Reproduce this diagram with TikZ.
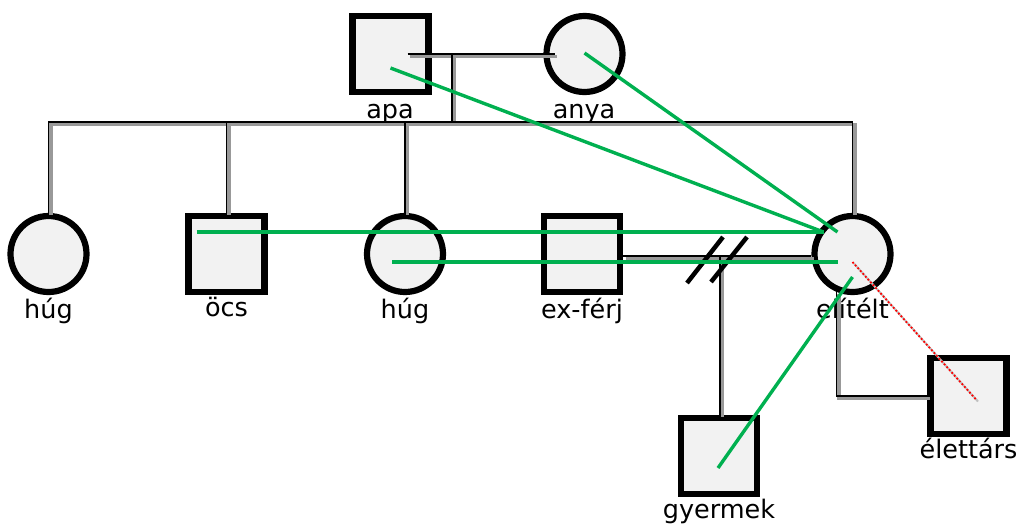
\documentclass[tikz,border=0pt]{standalone}
\usepackage{fontspec}
\setmainfont{DejaVu Sans}
\usetikzlibrary{calc}
\definecolor{fillg}{HTML}{F2F2F2}
\definecolor{grn}{HTML}{00B050}
\tikzset{
  sq/.style={draw=black, fill=fillg, line width=6.2pt, minimum size=76pt, inner sep=0pt, rectangle},
  ci/.style={draw=black, fill=fillg, line width=6.2pt, minimum size=76pt, inner sep=0pt, circle},
  lbl/.style={anchor=base, font=\fontsize{25.5}{27}\selectfont, inner sep=0pt},
  conn/.style={draw=black, line width=1.8pt,
     preaction={draw=black!40, line width=3.4pt, transform canvas={shift={(2.5pt,-2.5pt)}}}},
  rel/.style={draw=grn, line width=3.4pt},
  hostile/.style={draw=red, line width=1.8pt, dotted,
     preaction={draw=black!25, line width=2pt, transform canvas={shift={(1.5pt,-1.5pt)}}}},
  divorce/.style={draw=black, line width=4.5pt}
}
\begin{document}
\begin{tikzpicture}[x=1pt,y=-1pt]
\useasboundingbox (0,0) rectangle (1023,528);
% labels
\node[lbl] (lapa) at (390,118) {apa};
\node[lbl] (lanya) at (584,118) {anya};
\node[lbl] (lhug1) at (48.5,318) {húg};
\node[lbl] (locs) at (226.5,316) {öcs};
\node[lbl] (lhug2) at (405,318) {húg};
\node[lbl] (lexf) at (582,318) {ex-férj};
\node[lbl] (lel) at (852.5,318) {elítélt};
\node[lbl] (lgy) at (719,518) {gyermek};
\node[lbl] (let) at (968.5,458) {élettárs};
% shapes
\node[sq] (apa) at (390.5,54) {};
\node[ci] (anya) at (584.5,54) {};
\node[ci] (hug1) at (48.5,254) {};
\node[sq] (ocs) at (226.5,254) {};
\node[ci] (hug2) at (405,254) {};
\node[sq] (exf) at (582,254) {};
\node[ci] (el) at (852.5,254) {};
\node[sq] (gy) at (719,456) {};
\node[sq] (et) at (968.5,396) {};
% coordinates
\coordinate (m1a) at ($(apa.center)+(17,0)$);
\coordinate (m1b) at ($(anya.center)+(-30,0)$);
\coordinate (m1d) at (452,54);
\coordinate (sib) at (452,122);
\coordinate (m2c) at (720,256);
% connectors
\draw[conn] (m1a) -- (m1b);
\draw[conn] (m1d) -- (sib);
\draw[conn] (hug1.north) -- (hug1.north |- sib) -- (el.north |- sib) -- (el.north);
\draw[conn] (ocs.north |- sib) -- (ocs.north);
\draw[conn] (hug2.north |- sib) -- (hug2.north);
\draw[conn] ($(exf.east)+(0,2)$) -- ($(el.west)+(0,2)$);
\draw[conn] (m2c) -- (gy.north -| m2c);
\draw[conn] (el.247) |- (et.west);
% divorce marks
\draw[divorce] (687,283) -- (723,237);
\draw[divorce] (711,282) -- (747,237);
% relations
\draw[rel] ($(apa.center)+(0,14)$) -- ($(el.center)+(-29,-22)$);
\draw[rel] ($(anya.center)+(0,-1)$) -- ($(el.center)+(-15,-22)$);
\draw[rel] ($(ocs.center)+(-30,-22)$) -- ($(el.center)+(-29,-22)$);
\draw[rel] ($(hug2.center)+(-13,8)$) -- ($(el.center)+(-15,8)$);
\draw[rel] ($(gy.center)+(-1,12)$) -- ($(el.center)+(0,23)$);
\draw[hostile] ($(el.center)+(0,8)$) -- ($(et.center)+(8,4)$);
\end{tikzpicture}
\end{document}
